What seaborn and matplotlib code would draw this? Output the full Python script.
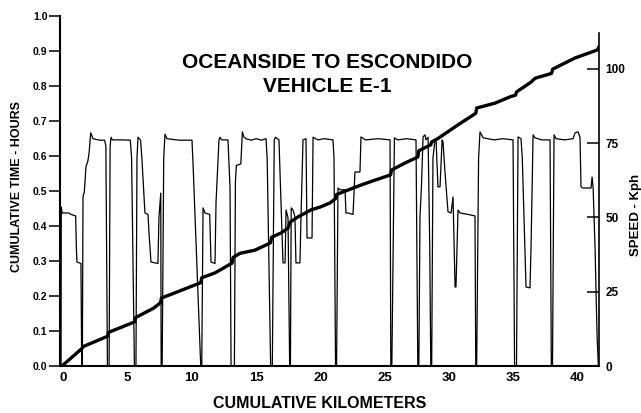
import matplotlib
matplotlib.use("Agg")
import matplotlib.pyplot as plt
import seaborn as sns

# cumulative time (hours) against cumulative distance (km)
TIME_KM = [-0.12, 1.44, 1.50, 3.44, 3.50, 5.54, 5.60, 7.00, 7.56, 7.62,
           10.68, 10.76, 11.79, 13.12, 13.20, 13.74, 14.90, 16.07, 16.12, 16.20,
           16.93, 17.47, 17.63, 18.25, 19.26, 20.04, 20.74, 21.17, 21.25, 23.15,
           24.24, 25.45, 25.53, 26.58, 27.57, 27.65, 28.58, 28.65, 29.14, 30.70,
           32.08, 32.15, 33.58, 34.75, 35.18, 35.25, 36.38, 36.69, 37.98, 38.06,
           39.80, 41.55, 41.66]
TIME_HR = [0.000, 0.050, 0.055, 0.085, 0.096, 0.126, 0.138, 0.165, 0.181, 0.194,
           0.238, 0.252, 0.266, 0.294, 0.310, 0.322, 0.331, 0.351, 0.354, 0.368,
           0.380, 0.394, 0.411, 0.426, 0.446, 0.455, 0.466, 0.478, 0.490, 0.517,
           0.531, 0.546, 0.560, 0.580, 0.597, 0.615, 0.632, 0.640, 0.650, 0.689,
           0.722, 0.737, 0.751, 0.769, 0.774, 0.783, 0.811, 0.822, 0.836, 0.848,
           0.880, 0.903, 0.912]

# speed trace (kph) against cumulative distance (km)
SPEED_KM = [
    -0.19, -0.17, -0.10, 0.40, 0.60, 0.95, 1.00, 1.05, 1.36, 1.42,
    1.47, 1.52, 1.62, 1.75, 1.90, 2.00, 2.12, 2.30, 2.80, 3.20, 3.30, 3.42,
    3.55, 3.63, 3.70, 3.80, 4.50, 5.20, 5.30, 5.52,
    5.64, 5.72, 5.80, 6.00, 6.10, 6.34, 6.58, 6.65, 6.81, 7.35, 7.43, 7.57, 7.60,
    7.68, 7.80, 7.90, 8.05, 9.00, 10.00, 10.10, 10.68,
    10.76, 10.86, 11.01, 11.38, 11.48, 11.79, 11.87, 12.10, 12.18, 12.30, 12.80, 12.96, 13.04,
    13.30, 13.38, 13.45, 13.80, 13.92, 14.05, 14.20, 14.60, 15.00, 15.40, 15.76, 15.85, 16.12,
    16.25, 16.40, 16.50, 16.77, 16.85, 17.08, 17.24, 17.32, 17.47, 17.60,
    17.66, 17.72, 17.86, 18.01, 18.09, 18.40, 18.48, 18.64, 18.87, 18.95, 19.34, 19.42,
    19.80, 20.30, 20.97, 21.05, 21.17,
    21.25, 21.36, 21.52, 21.91, 21.98, 22.14, 22.53, 22.68, 23.07, 23.15, 23.50, 24.50, 25.41, 25.47,
    25.55, 25.75, 26.00, 26.70, 27.43, 27.57,
    27.65, 27.74, 27.85, 27.98, 28.13, 28.21, 28.37, 28.50, 28.58,
    28.65, 28.75, 28.91, 28.99, 29.14, 29.30, 29.46, 29.53, 29.69, 29.92, 30.16, 30.31,
    30.47, 30.54, 30.70, 30.86, 31.50, 32.02, 32.08,
    32.15, 32.30, 32.41, 32.65, 33.50, 34.20, 34.98, 35.10,
    35.25, 35.37, 35.60, 35.70, 35.99, 36.30, 36.38, 36.54, 36.69, 37.20, 37.86, 37.96,
    38.05, 38.17, 38.33, 39.00, 39.65, 39.81, 40.04, 40.19, 40.27, 40.43, 41.05, 41.13,
    41.21, 41.36, 41.52, 41.62,
]
SPEED_KPH = [
    0, 53.5, 51.5, 51.5, 51.0, 50.5, 40, 35, 34.5, 0,
    0, 57, 58.5, 67, 69, 72, 78.5, 76.5, 76, 76, 74, 0,
    0, 74, 77, 76.1, 76.1, 76, 70, 0,
    0, 70, 77, 76, 70, 51.5, 51, 45, 35, 34.5, 50, 58.2, 0,
    0, 70, 78, 76.5, 76, 76, 66, 0,
    0, 53.2, 51.5, 51.0, 35, 34.5, 55, 76.1, 77, 76.1, 76.1, 60, 0,
    0, 62, 67.5, 68, 78.8, 77, 76.5, 76, 76.5, 76, 76.5, 70, 0,
    0, 76.1, 77, 76.1, 65, 34.7, 34.7, 52.5, 50, 0,
    0, 53.2, 52.5, 50.2, 34.7, 34.7, 50, 76.1, 76.5, 43.1, 43.1, 77,
    76.1, 76.5, 76.1, 70, 0,
    0, 59.9, 59.3, 59.3, 51.5, 51.5, 51.0, 65.3, 65.3, 77.1, 76.1, 76.5, 76.1, 0,
    0, 76.8, 76.1, 76.5, 76.1, 0,
    0, 50.2, 60, 77.1, 77.8, 76.1, 77, 40, 0,
    0, 70, 76.1, 76.1, 60.3, 60.3, 76.1, 75.5, 65, 51.9, 51.5, 56.9,
    26.6, 26.6, 52.5, 51.5, 51, 50.5, 0,
    0, 70, 78.8, 76.8, 76.1, 76.5, 76.1, 0,
    0, 77.1, 76.5, 70, 26.6, 26.3, 40, 77.8, 76.8, 76.1, 76.1, 0,
    0, 77.8, 76.5, 76.1, 76.5, 78.5, 78.8, 77, 60.3, 59.9, 59.9, 63.6,
    60, 40, 10, 0,
]

KM_TICKS = [0, 5, 10, 15, 20, 25, 30, 35, 40]
HR_TICKS = [0.0, 0.1, 0.2, 0.3, 0.4, 0.5, 0.6, 0.7, 0.8, 0.9, 1.0]
KPH_TICKS = [0, 25, 50, 75, 100]

sns.set_theme(style="white")
plt.rcParams["font.family"] = ["Liberation Sans", "DejaVu Sans"]
plt.rcParams["font.weight"] = "bold"
plt.rcParams["text.color"] = "black"
plt.rcParams["axes.labelcolor"] = "black"
plt.rcParams["xtick.color"] = "black"
plt.rcParams["ytick.color"] = "black"

fig = plt.figure(figsize=(6.41, 4.13), dpi=100)
ax = fig.add_axes([0.0936, 0.1138, 0.8409, 0.8475])

sns.lineplot(x=TIME_KM, y=TIME_HR, ax=ax, sort=False, estimator=None,
             color="black", linewidth=2.4)
ax.set_xlim(-0.27, 41.67)
ax.set_ylim(0, 1.0)
ax.set_xticks(KM_TICKS)
ax.set_xticklabels([str(v) for v in KM_TICKS])
ax.set_yticks(HR_TICKS)
ax.set_yticklabels([f"{v:.1f}" for v in HR_TICKS])
ax.tick_params(axis="y", direction="out", length=8, width=1.1, pad=1,
               labelsize=7.5, colors="black")
ax.tick_params(axis="x", direction="in", length=9, width=1.1, pad=4.5,
               labelsize=9.5, colors="black")
for side in ["top", "right"]:
    ax.spines[side].set_visible(False)
for side in ["left", "bottom"]:
    ax.spines[side].set_linewidth(1.5)
    ax.spines[side].set_color("black")

ax2 = ax.twinx()
sns.lineplot(x=SPEED_KM, y=SPEED_KPH, ax=ax2, sort=False, estimator=None,
             color="black", linewidth=0.9)
ax2.set_xlim(-0.27, 41.67)
ax2.set_ylim(0, 117.8)
ax2.set_yticks(KPH_TICKS)
ax2.set_yticklabels([str(v) for v in KPH_TICKS])
ax2.tick_params(axis="y", direction="in", length=8.5, width=1.1, pad=4.5,
                labelsize=8.5, colors="black")
for side in ["top", "left", "bottom"]:
    ax2.spines[side].set_visible(False)
ax2.spines["right"].set_linewidth(1.2)
ax2.spines["right"].set_color("black")
ax2.spines["right"].set_bounds(0, 112)
ax2.set_ylabel("")
ax.set_ylabel("")

fig.text(0.510, 0.8354, "OCEANSIDE TO ESCONDIDO", ha="center", va="baseline",
         fontsize=15, fontweight="bold", color="black")
fig.text(0.510, 0.7772, "VEHICLE E-1", ha="center", va="baseline",
         fontsize=15, fontweight="bold", color="black")
fig.text(0.498, 1 - 408 / 413, "CUMULATIVE KILOMETERS", ha="center", va="baseline",
         fontsize=11.5, fontweight="bold", color="black")
fig.text(17 / 641, 1 - 187 / 413, "CUMULATIVE TIME - HOURS", ha="center", va="center",
         rotation=90, fontsize=9, fontweight="bold", color="black")
fig.text(636 / 641, 1 - 215 / 413, "SPEED - Kph", ha="center", va="center",
         rotation=90, fontsize=9.5, fontweight="bold", color="black")

fig.savefig("out.png", dpi=100)
